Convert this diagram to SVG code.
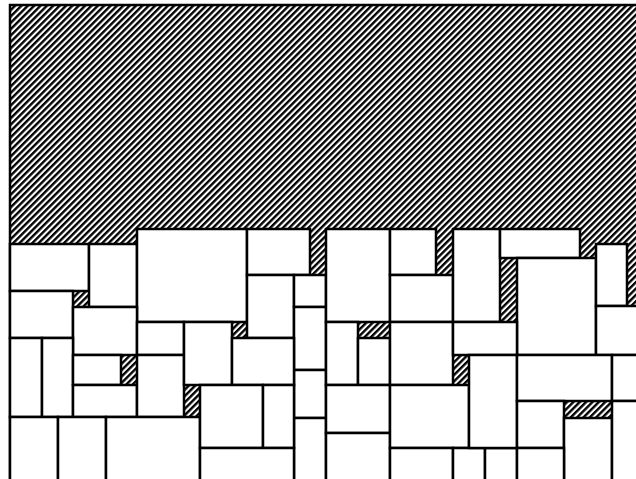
<svg xmlns="http://www.w3.org/2000/svg" width="636" height="479" viewBox="0 0 636 479">
<defs>
<pattern id="hatch" patternUnits="userSpaceOnUse" width="4.5" height="4.5" patternTransform="rotate(45)">
<rect x="0" y="0" width="4.5" height="4.5" fill="#fff"/>
<rect x="0" y="0" width="2.4" height="4.5" fill="#000"/>
</pattern>
</defs>
<style>
.c{fill:url(#hatch);stroke:#000;stroke-width:2.5}
.b{fill:#fff;stroke:#000;stroke-width:2.5}
</style>
<rect width="636" height="479" fill="#fff"/>
<rect id="container" class="c" x="10" y="5" width="640" height="480"/>
<g id="boxes">
<rect class="b" x="10" y="244" width="79" height="47"/>
<rect class="b" x="89" y="244" width="48" height="63"/>
<rect class="b" x="137" y="229" width="110" height="93"/>
<rect class="b" x="10" y="291" width="63" height="47"/>
<rect class="b" x="73" y="307" width="64" height="48"/>
<rect class="b" x="10" y="338" width="32" height="79"/>
<rect class="b" x="42" y="338" width="31" height="79"/>
<rect class="b" x="73" y="355" width="48" height="30"/>
<rect class="b" x="73" y="385" width="64" height="32"/>
<rect class="b" x="137" y="322" width="47" height="33"/>
<rect class="b" x="137" y="355" width="47" height="62"/>
<rect class="b" x="184" y="322" width="48" height="63"/>
<rect class="b" x="10" y="417" width="48" height="64"/>
<rect class="b" x="58" y="417" width="48" height="64"/>
<rect class="b" x="106" y="417" width="94" height="64"/>
<rect class="b" x="247" y="229" width="63" height="46"/>
<rect class="b" x="247" y="275" width="47" height="63"/>
<rect class="b" x="294" y="275" width="32" height="32"/>
<rect class="b" x="294" y="307" width="32" height="63"/>
<rect class="b" x="294" y="370" width="32" height="48"/>
<rect class="b" x="294" y="418" width="32" height="63"/>
<rect class="b" x="232" y="338" width="62" height="47"/>
<rect class="b" x="200" y="385" width="63" height="63"/>
<rect class="b" x="263" y="385" width="31" height="63"/>
<rect class="b" x="200" y="448" width="94" height="33"/>
<rect class="b" x="326" y="229" width="64" height="93"/>
<rect class="b" x="326" y="322" width="32" height="63"/>
<rect class="b" x="358" y="338" width="32" height="47"/>
<rect class="b" x="326" y="385" width="64" height="48"/>
<rect class="b" x="326" y="433" width="64" height="48"/>
<rect class="b" x="390" y="229" width="46" height="46"/>
<rect class="b" x="390" y="275" width="63" height="47"/>
<rect class="b" x="390" y="322" width="63" height="63"/>
<rect class="b" x="390" y="385" width="79" height="63"/>
<rect class="b" x="390" y="448" width="63" height="33"/>
<rect class="b" x="453" y="448" width="32" height="33"/>
<rect class="b" x="485" y="448" width="32" height="33"/>
<rect class="b" x="453" y="229" width="47" height="93"/>
<rect class="b" x="500" y="229" width="80" height="29"/>
<rect class="b" x="517" y="258" width="79" height="97"/>
<rect class="b" x="453" y="322" width="64" height="33"/>
<rect class="b" x="469" y="355" width="48" height="93"/>
<rect class="b" x="596" y="244" width="31" height="62"/>
<rect class="b" x="596" y="306" width="50" height="49"/>
<rect class="b" x="517" y="355" width="95" height="46"/>
<rect class="b" x="612" y="355" width="34" height="46"/>
<rect class="b" x="517" y="401" width="47" height="47"/>
<rect class="b" x="564" y="418" width="48" height="63"/>
<rect class="b" x="612" y="401" width="34" height="80"/>
<rect class="b" x="517" y="448" width="47" height="33"/>
</g>
</svg>
